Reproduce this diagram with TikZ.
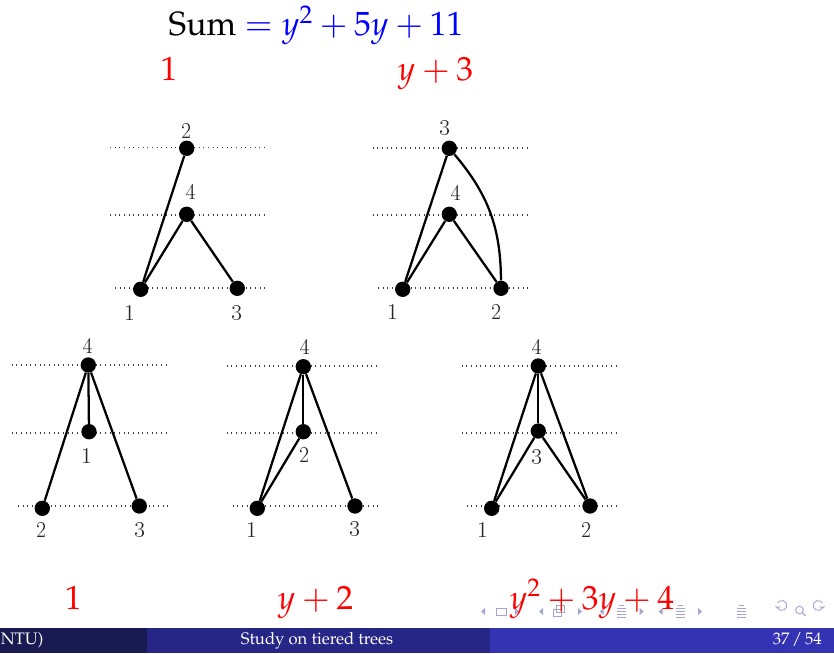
\documentclass[tikz,border=0pt]{standalone}
\usepackage[T1]{fontenc}
\usepackage{mathpazo}
\definecolor{navc}{RGB}{165,165,212}
\definecolor{footA}{RGB}{26,26,82}
\definecolor{footB}{RGB}{38,38,134}
\definecolor{footC}{RGB}{51,51,179}
\newcommand\mybigfont{\fontsize{25.2}{25.2}\selectfont}
\newcommand\mylabfont{\fontfamily{lmr}\fontsize{17}{17}\selectfont}
\newcommand\myfootfont{\fontsize{12.5}{12.5}\selectfont}
\begin{document}
\begin{tikzpicture}[x=0.75pt,y=-0.75pt,
  vtx/.style={circle,fill=black,inner sep=0pt,minimum size=11.5pt},
  lvl/.style={line width=0.8pt,dash pattern=on 0.8pt off 2.7pt,black!75},
  edg/.style={line width=1.7pt},
  lab/.style={font=\mylabfont,text=black!85,inner sep=0pt},
  big/.style={font=\mybigfont,anchor=base,inner sep=0pt},
  foot/.style={font=\myfootfont,text=white,anchor=base,inner sep=0pt},
  nav/.style={navc,line width=0.7pt}]
\useasboundingbox (0,0) rectangle (834,653);

% navigation symbols (beneath text)
\foreach \x in {483,541,601.7,660.7} {\fill[navc] (\x+2,608) -- (\x-2,611.5) -- (\x+2,615) -- cycle;}
\foreach \x in {517,580,641.7,700} {\fill[navc] (\x-2,608) -- (\x+2,611.5) -- (\x-2,615) -- cycle;}
\draw[nav] (496.7,608) rectangle (506.7,615);
\draw[nav] (553,609.5) rectangle (561,616);
\draw[nav] (556,605.5) rectangle (564,612);
\foreach \x in {621.7,680,741.7} {
  \draw[nav] (\x-2.5,605.5) -- (\x+2.5,605.5);
  \foreach \d in {608.5,611.5,614.5,617.5} {\draw[nav] (\x-4.5,\d) -- (\x+4.5,\d);}
}
\draw[nav] (777.5,608) arc (150:-150:5);
\draw[nav] (777.5,608) -- (775.5,606.2) (777.5,608) -- (780,606.6);
\draw[nav] (799.5,610) circle (3.8);
\draw[nav,line width=1pt] (802.3,612.8) -- (805.5,616);
\draw[nav] (822.5,608) arc (30:330:5);
\draw[nav] (822.5,608) -- (824.5,606.2) (822.5,608) -- (820,606.6);

% title and weights
\node[big] (title) at (316,35.5) {Sum {\color{blue}$= y^2+5y+11$}};
\node[big,text=red] (wA) at (169,80.7) {$1$};
\node[big,text=red] (wB) at (435.5,80.7) {$y+3$};
\node[big,text=red] (wC) at (73.3,609) {$1$};
\node[big,text=red] (wD) at (315.5,609) {$y+2$};
\node[big,text=red] (wE) at (592,609) {$y^2+3y+4$};

% ---- graph A
\draw[lvl] (110,147.7) -- (267,147.7);
\draw[lvl] (110,215) -- (267,215);
\draw[lvl] (115,288) -- (267,288);
\node[vtx] (a2) at (186.7,148.3) {};
\node[vtx] (a4) at (186.7,214.3) {};
\node[vtx] (a1) at (140.7,289.3) {};
\node[vtx] (a3) at (237.3,288.3) {};
\draw[edg] (a2) -- (a1);
\draw[edg] (a4) -- (a1);
\draw[edg] (a4) -- (a3);
\node[lab] (la2) at (187,130.7) {2};
\node[lab] (la4) at (190.7,191.7) {4};
\node[lab] (la1) at (130,312.7) {1};
\node[lab] (la3) at (236.7,313.3) {3};

% ---- graph B
\draw[lvl] (372.7,148) -- (528.3,148);
\draw[lvl] (372.7,215) -- (528.3,215);
\draw[lvl] (378,288) -- (528,288);
\node[vtx] (b3) at (449.3,148.3) {};
\node[vtx] (b4) at (449.3,214.3) {};
\node[vtx] (b1) at (402.7,289.3) {};
\node[vtx] (b2) at (501,288.3) {};
\draw[edg] (b3) -- (b1);
\draw[edg] (b4) -- (b1);
\draw[edg] (b4) -- (b2);
\draw[edg] (b3) to[bend left=20] (b2);
\node[lab] (lb3) at (445,128.3) {3};
\node[lab] (lb4) at (455.7,192.7) {4};
\node[lab] (lb1) at (393.3,311.7) {1};
\node[lab] (lb2) at (496.7,311.7) {2};

% ---- graph C
\draw[lvl] (11.7,365) -- (168.3,365);
\draw[lvl] (11.7,433) -- (168.3,433);
\draw[lvl] (18,506) -- (168,506);
\node[vtx] (c4) at (88.3,365) {};
\node[vtx] (c1) at (89,431.7) {};
\node[vtx] (c2) at (42.3,508.3) {};
\node[vtx] (c3) at (139.3,506) {};
\draw[edg] (c4) -- (c1);
\draw[edg] (c4) -- (c2);
\draw[edg] (c4) -- (c3);
\node[lab] (lc4) at (88.3,346) {4};
\node[lab] (lc1) at (87.3,456) {1};
\node[lab] (lc2) at (41.7,530) {2};
\node[lab] (lc3) at (140,530) {3};

% ---- graph D
\draw[lvl] (226.7,366) -- (378.3,366);
\draw[lvl] (226.7,433) -- (378.3,433);
\draw[lvl] (232.7,506) -- (378.3,506);
\node[vtx] (d4) at (303.3,366.7) {};
\node[vtx] (d2) at (303.3,431.7) {};
\node[vtx] (d1) at (257.3,508.3) {};
\node[vtx] (d3) at (355,506) {};
\draw[edg] (d4) -- (d1);
\draw[edg] (d4) -- (d2);
\draw[edg] (d4) -- (d3);
\draw[edg] (d2) -- (d1);
\node[lab] (ld4) at (305,347) {4};
\node[lab] (ld2) at (305,455) {2};
\node[lab] (ld1) at (251.7,530) {1};
\node[lab] (ld3) at (355,529.3) {3};

% ---- graph E
\draw[lvl] (461.7,366) -- (618.3,366);
\draw[lvl] (461.7,433) -- (618.3,433);
\draw[lvl] (466.7,506) -- (618.3,506);
\node[vtx] (e4) at (538.3,366) {};
\node[vtx] (e3) at (538.3,431) {};
\node[vtx] (e1) at (491.7,508.3) {};
\node[vtx] (e2) at (590,506) {};
\draw[edg] (e4) -- (e1);
\draw[edg] (e4) -- (e3);
\draw[edg] (e4) -- (e2);
\draw[edg] (e3) -- (e1);
\draw[edg] (e3) -- (e2);
\node[lab] (le4) at (537.3,347.5) {4};
\node[lab] (le3) at (537.3,456.7) {3};
\node[lab] (le1) at (482.7,530) {1};
\node[lab] (le2) at (587.3,530) {2};

% ---- footline
\fill[footA] (0,628) rectangle (147,653);
\fill[footB] (147,628) rectangle (490,653);
\fill[footC] (490,628) rectangle (834,653);
\node[foot,anchor=base west] (fa) at (0.5,644.5) {NTU)};
\node[foot] (fb) at (317,644.5) {Study on tiered trees};
\node[foot,anchor=base east] (fc) at (822,644.5) {37\,/\,54};
\end{tikzpicture}
\end{document}
